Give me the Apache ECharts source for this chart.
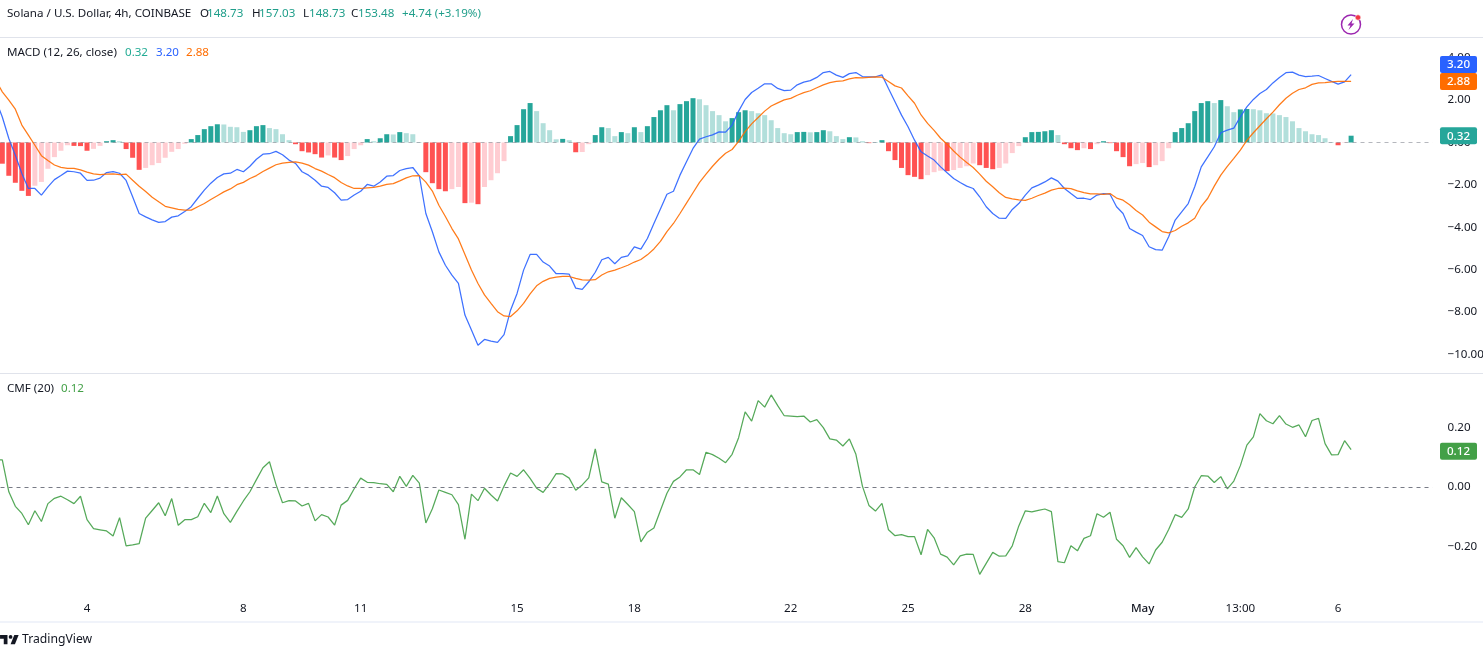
<!DOCTYPE html>
<html><head><meta charset="utf-8">
<style>html,body{margin:0;padding:0;background:#fff}#c{width:1483px;height:656px}</style>
<script src="https://cdn.jsdelivr.net/npm/echarts@6/dist/echarts.min.js"></script>
</head><body><div id="c"></div>
<script>
// Values. The first value of each array is the bar just off the left edge.
const histogram = [-0.85,
-1.0,-1.57,-1.9,-2.28,-2.52,-2.04,-1.86,-1.24,-.69,-.39,
-.13,-.16,-.17,-.39,-.30,-.16,.06,.11,.06,-.31,
-.72,-1.29,-1.2,-1.07,-.97,-.72,-.44,-.31,-.06,.16,
.35,.63,.77,.86,.85,.74,.72,.5,.58,.77,
.82,.68,.63,.39,.11,-.08,-.41,-.47,-.55,-.71,
-.61,-.71,-.83,-.64,-.31,-.13,.16,.06,.2,.39,
.38,.49,.44,.39,.02,-1.4,-1.92,-2.2,-2.3,-2.2,
-2.1,-2.86,-2.84,-2.91,-2.1,-1.78,-1.45,-.88,.3,.82,
1.57,1.86,1.48,.91,.58,.15,.17,.11,-.46,-.45,
-.08,.35,.72,.68,.3,.49,.44,.72,.49,.77,
1.2,1.52,1.76,1.52,1.81,1.95,2.09,2.04,1.76,1.48,
1.29,1.0,1.15,1.43,1.52,1.48,1.38,1.29,1.05,.68,
.44,.39,.49,.5,.48,.49,.58,.53,.3,.16,
.25,.24,.06,-.03,.01,.11,-.41,-.83,-1.2,-1.54,
-1.62,-1.73,-1.54,-1.4,-1.33,-1.35,-1.3,-1.2,-1.12,-.99,
-1.07,-1.2,-1.26,-1.2,-.99,-.5,-.17,.25,.49,.5,
.53,.58,.35,-.08,-.27,-.36,-.27,-.31,-.08,.06,
-.03,-.41,-.69,-1.12,-1.02,-.97,-1.16,-1.07,-.88,-.27,
.49,.68,.91,1.48,1.86,1.95,1.86,2.0,1.71,1.43,
1.56,1.58,1.57,1.52,1.38,1.37,1.29,1.2,1.0,.68,
.53,.39,.35,.2,.02,-.13,-.02,.32];

const macdLine = [2.0,
1.2,.19,-.6,-1.46,-2.17,-2.17,-2.48,-2.09,-1.75,-1.56,
-1.35,-1.38,-1.45,-1.79,-1.78,-1.68,-1.42,-1.37,-1.45,-1.79,
-2.56,-3.35,-3.51,-3.65,-3.77,-3.73,-3.52,-3.46,-3.25,-3.03,
-2.63,-2.25,-1.92,-1.65,-1.48,-1.45,-1.27,-1.38,-1.12,-.79,
-.55,-.53,-.42,-.58,-.83,-.99,-1.38,-1.54,-1.78,-2.06,
-2.12,-2.37,-2.72,-2.69,-2.48,-2.30,-1.98,-2.06,-1.86,-1.59,
-1.56,-1.32,-1.23,-1.18,-1.57,-3.35,-4.21,-5.16,-5.79,-6.26,
-6.65,-8.14,-8.85,-9.56,-9.29,-9.37,-9.43,-9.06,-7.91,-7.12,
-6.02,-5.28,-5.28,-5.64,-5.83,-6.19,-6.18,-6.21,-6.87,-6.93,
-6.57,-6.12,-5.53,-5.42,-5.72,-5.42,-5.35,-4.92,-5.03,-4.53,
-3.82,-3.14,-2.44,-2.30,-1.54,-.91,-.28,.16,.27,.36,
.5,.49,.82,1.48,2.03,2.36,2.56,2.77,2.77,2.55,
2.45,2.47,2.72,2.85,2.92,3.07,3.3,3.35,3.18,3.07,
3.25,3.30,3.11,3.10,3.10,3.19,2.55,1.92,1.29,.74,
.11,-.44,-.64,-.83,-1.15,-1.43,-1.70,-1.89,-2.06,-2.17,
-2.56,-3.03,-3.35,-3.57,-3.58,-3.16,-2.88,-2.48,-2.14,-2.01,
-1.86,-1.67,-1.82,-2.17,-2.41,-2.64,-2.63,-2.69,-2.48,-2.41,
-2.44,-3.03,-3.35,-4.06,-4.23,-4.39,-4.92,-5.05,-5.08,-4.45,
-3.66,-3.27,-2.88,-2.09,-1.15,-.68,-.2,.46,.58,.68,
1.21,1.68,2.03,2.31,2.5,2.81,3.07,3.29,3.32,3.18,
3.11,3.13,3.16,3.02,2.88,2.75,2.86,3.2];

const signalLine = [2.94,
2.39,2.0,1.57,.82,.35,-.13,-.62,-.85,-1.06,-1.17,
-1.22,-1.22,-1.29,-1.40,-1.48,-1.52,-1.49,-1.48,-1.51,-1.49,
-1.78,-2.06,-2.31,-2.58,-2.8,-3.01,-3.08,-3.15,-3.19,-3.19,
-3.03,-2.88,-2.69,-2.51,-2.33,-2.19,-1.99,-1.88,-1.70,-1.56,
-1.37,-1.21,-1.05,-.97,-.94,-.91,-.97,-1.07,-1.23,-1.35,
-1.51,-1.66,-1.89,-2.05,-2.17,-2.17,-2.14,-2.12,-2.06,-1.98,
-1.94,-1.81,-1.67,-1.57,-1.56,-1.87,-2.29,-2.96,-3.49,-4.06,
-4.55,-5.28,-6.01,-6.65,-7.19,-7.59,-7.98,-8.18,-8.21,-7.94,
-7.59,-7.14,-6.76,-6.55,-6.41,-6.35,-6.32,-6.32,-6.41,-6.48,
-6.49,-6.47,-6.25,-6.1,-6.02,-5.91,-5.79,-5.64,-5.52,-5.30,
-5.02,-4.66,-4.2,-3.82,-3.35,-2.86,-2.37,-1.88,-1.49,-1.12,
-.79,-.51,-.33,.05,.51,.88,1.18,1.48,1.72,1.87,
2.01,2.08,2.23,2.35,2.44,2.58,2.72,2.82,2.88,2.91,
3.0,3.06,3.05,3.07,3.09,3.08,2.88,2.67,2.57,2.2,
1.85,1.3,.9,.57,.2,-.08,-.40,-.69,-.94,-1.18,
-1.49,-1.83,-2.09,-2.37,-2.59,-2.66,-2.71,-2.73,-2.63,-2.5,
-2.39,-2.25,-2.17,-2.15,-2.18,-2.28,-2.36,-2.42,-2.42,-2.45,
-2.41,-2.62,-2.72,-2.94,-3.21,-3.42,-3.76,-3.98,-4.2,-4.26,
-4.15,-3.95,-3.79,-3.57,-3.01,-2.63,-2.06,-1.54,-1.13,-.75,
-.36,.1,.46,.79,1.12,1.43,1.78,2.09,2.32,2.5,
2.58,2.74,2.81,2.82,2.86,2.88,2.88,2.88];

const cmfLine = [.091,
.091,-.016,-.065,-.089,-.127,-.080,-.116,-.056,-.038,-.031,
-.043,-.056,-.031,-.110,-.140,-.144,-.148,-.165,-.103,-.198,
-.195,-.191,-.105,-.079,-.053,-.097,-.039,-.129,-.110,-.110,
-.100,-.055,-.086,-.030,-.090,-.119,-.082,-.047,-.016,.025,
.065,.085,.009,-.053,-.046,-.047,-.064,-.055,-.114,-.093,
-.101,-.128,-.061,-.045,-.006,.030,.016,.015,.011,.009,
-.016,.036,.002,.039,.013,-.121,-.073,-.010,-.018,-.026,
-.059,-.176,-.024,-.046,-.004,-.027,-.047,.003,.047,.036,
.058,.029,-.004,-.018,.011,.045,.044,.030,-.011,.007,
.031,.128,.017,.010,-.105,-.036,-.059,-.083,-.185,-.152,
-.138,-.079,-.021,.019,.034,.058,.058,.042,.117,.109,
.097,.082,.110,.166,.253,.222,.291,.269,.310,.274,
.240,.239,.237,.239,.219,.227,.200,.162,.158,.138,
.162,.110,.003,-.062,-.081,-.055,-.144,-.164,-.160,-.167,
-.167,-.228,-.143,-.171,-.226,-.236,-.262,-.232,-.226,-.227,
-.294,-.257,-.220,-.233,-.232,-.198,-.131,-.080,-.084,-.079,
-.074,-.083,-.251,-.255,-.198,-.215,-.173,-.164,-.090,-.102,
-.085,-.176,-.198,-.237,-.204,-.235,-.259,-.212,-.186,-.143,
-.093,-.102,-.074,.000,.038,.037,.015,.035,-.006,.020,
.072,.141,.169,.247,.223,.213,.240,.212,.201,.209,
.169,.224,.231,.146,.108,.109,.156,.126];

const barCount = 221;                 // includes empty bars to the right of the last candle
const categories = Array.from({length: barCount}, (_, i) => String(i));
const tickBars   = [14,38,56,80,98,122,140,158,176,191,206];
const tickLabels = ['4','8','11','15','18','22','25','28','May','13:00','6'];
const macdTicks  = [-10,-8,-6,-4,-2,0,2,4];
const cmfTicks   = [-0.2,0,0.2];
const macdLast = 0.32, macdLineLast = 3.20, signalLast = 2.88, cmfLast = 0.12;

const FONT = '"Noto Sans", sans-serif';
const INK = '#131722';
const FS = 11.6;
const LINE_W = 1.25;
const BAR_STEP = 6.516;
const GRID_LEFT = -7.47;
const fmt = v => (v < 0 ? '\u2212' : '') + Math.abs(v).toFixed(2);

const chart = echarts.init(document.getElementById('c'), null, {renderer: 'canvas'});

function histColor(p) {
  const v = histogram[p.dataIndex], prev = p.dataIndex ? histogram[p.dataIndex - 1] : 0;
  if (v >= 0) return v > prev ? '#26A69A' : '#B2DFDB';
  return v < prev ? '#FF5252' : '#FFCDD2';
}
const zeroLine = (color) => ({
  silent: true, symbol: 'none', animation: false, label: {show: false},
  lineStyle: {color, width: 1, type: [4, 4]}, data: [{yAxis: 0}]
});
const hiddenAxis = {show: false};

chart.setOption({
  animation: false,
  backgroundColor: '#fff',
  grid: [
    {left: GRID_LEFT, top: 38, width: BAR_STEP * barCount, height: 335, outerBoundsMode: 'none', containLabel: false},
    {left: GRID_LEFT, top: 374, width: BAR_STEP * barCount, height: 218, outerBoundsMode: 'none', containLabel: false}
  ],
  xAxis: [
    {gridIndex: 0, type: 'category', data: categories, axisLine: hiddenAxis, axisTick: hiddenAxis, axisLabel: hiddenAxis, splitLine: hiddenAxis},
    {gridIndex: 1, type: 'category', data: categories, axisLine: hiddenAxis, axisTick: hiddenAxis, splitLine: hiddenAxis,
     axisLabel: {
       interval: 0, margin: 11, color: INK, fontFamily: FONT, fontSize: FS,
       formatter: (val, i) => {
         const k = tickBars.indexOf(i);
         if (k < 0) return '';
         return tickLabels[k] === 'May' ? '{b|May}' : tickLabels[k];
       },
       rich: {b: {fontWeight: 500, color: INK, fontFamily: FONT, fontSize: FS}}
     }}
  ],
  yAxis: [
    {gridIndex: 0, type: 'value', position: 'right', min: -10.873, max: 4.929,
     axisLine: hiddenAxis, axisTick: hiddenAxis, splitLine: hiddenAxis,
     axisLabel: {customValues: macdTicks, margin: 15, color: INK, fontFamily: FONT, fontSize: FS, padding: [2, 0, 0, 0], formatter: fmt}},
    {gridIndex: 1, type: 'value', position: 'right', min: -0.3535, max: 0.3805,
     axisLine: hiddenAxis, axisTick: hiddenAxis, splitLine: hiddenAxis,
     axisLabel: {customValues: cmfTicks, margin: 15, color: INK, fontFamily: FONT, fontSize: FS, padding: [2, 0, 0, 0], formatter: fmt}}
  ],
  series: [
    {name: 'Histogram', type: 'bar', xAxisIndex: 0, yAxisIndex: 0, data: histogram, barWidth: 5, silent: true,
     itemStyle: {color: histColor}, markLine: zeroLine('rgba(120,123,134,0.55)'), z: 3},
    {name: 'MACD', type: 'line', xAxisIndex: 0, yAxisIndex: 0, data: macdLine, showSymbol: false, silent: true,
     lineStyle: {color: '#2962FF', width: LINE_W, opacity: 0.9}, z: 4},
    {name: 'Signal', type: 'line', xAxisIndex: 0, yAxisIndex: 0, data: signalLine, showSymbol: false, silent: true,
     lineStyle: {color: '#FF6D00', width: LINE_W, opacity: 0.9}, z: 5},
    {name: 'CMF', type: 'line', xAxisIndex: 1, yAxisIndex: 1, data: cmfLine, showSymbol: false, silent: true,
     lineStyle: {color: '#43A047', width: LINE_W, opacity: 0.9}, markLine: zeroLine('#787B86'), z: 4}
  ]
});

// Text and furniture around the chart
const txt = (x, y, text, fill, extra) => ({
  type: 'text', z: 120, silent: true,
  style: Object.assign({x, y, text, fill, font: FS + 'px ' + FONT, verticalAlign: 'middle'}, extra || {})
});
const G = '#1f9e8a';
const rule = (y, h, fill) => ({type: 'rect', z: 110, silent: true, shape: {x: 0, y, width: 1483, height: h}, style: {fill}});

function tag(value, yAxisIndex, color, shift) {
  const y = chart.convertToPixel({yAxisIndex}, value) + shift;
  return [
    {type: 'rect', z: 130, silent: true, shape: {x: 1440, y: y - 8.5, width: 37, height: 17, r: 2}, style: {fill: color}},
    {type: 'text', z: 131, silent: true, style: {x: 1458.5, y: y + 0.5, text: value.toFixed(2), fill: '#fff',
      font: '500 ' + FS + 'px ' + FONT, align: 'center', verticalAlign: 'middle'}}
  ];
}
// TradingView mark, 0.62 scale of its 36-unit artwork
const LS = 0.62, LX = -1.2, LY = 631.3;
const logoPts = pts => pts.map(([x, y]) => [LX + x * LS, LY + y * LS]);

chart.setOption({graphic: {elements: [
  rule(37, 1, '#E0E3EB'), rule(373, 1, '#E0E3EB'), rule(621, 2, '#F0F3FA'),
  txt(7, 14, 'Solana / U.S. Dollar, 4h, COINBASE', INK),
  txt(200, 14, 'O', INK), txt(207, 14, '148.73', G),
  txt(252, 14, 'H', INK), txt(259, 14, '157.03', G),
  txt(303, 14, 'L', INK), txt(309, 14, '148.73', G),
  txt(351, 14, 'C', INK), txt(358, 14, '153.48', G),
  txt(402, 14, '+4.74 (+3.19%)', G),
  txt(7, 53, 'MACD (12, 26, close)', INK),
  txt(125, 53, macdLast.toFixed(2), '#22AB94'),
  txt(156, 53, macdLineLast.toFixed(2), '#2962FF'),
  txt(186, 53, signalLast.toFixed(2), '#FF6D00'),
  txt(7, 389, 'CMF (20)', INK),
  txt(61, 389, cmfLast.toFixed(2), '#43A047'),
  txt(22, 640, 'TradingView', INK, {font: '12.2px ' + FONT}),
  {type: 'polygon', z: 120, silent: true, shape: {points: logoPts([[2,6],[14,6],[14,21],[8,21],[8,12],[2,12]])}, style: {fill: INK}},
  {type: 'polygon', z: 120, silent: true, shape: {points: logoPts([[26,21],[19,21],[25,6],[32,6]])}, style: {fill: INK}},
  {type: 'circle', z: 120, silent: true, shape: {cx: LX + 19 * LS, cy: LY + 9 * LS, r: 3 * LS}, style: {fill: INK}},
  {type: 'circle', z: 120, silent: true, shape: {cx: 1351, cy: 24.5, r: 9.5}, style: {fill: '#fff', stroke: '#9C27B0', lineWidth: 1.5}},
  {type: 'polygon', z: 121, silent: true, shape: {points: [[1353,19],[1347.5,25.5],[1350.5,25.5],[1348.5,30],[1354.5,23.5],[1351.5,23.5]]}, style: {fill: '#9C27B0'}},
  {type: 'circle', z: 122, silent: true, shape: {cx: 1358, cy: 17.5, r: 2.7}, style: {fill: '#F23645', stroke: '#fff', lineWidth: 0.5}},
  ...tag(macdLineLast, 0, '#2962FF', -10.2),
  ...tag(signalLast, 0, '#FF6D00', 0),
  ...tag(macdLast, 0, '#26A69A', 0),
  ...tag(cmfLast, 1, '#43A047', 0)
]}});
</script></body></html>
